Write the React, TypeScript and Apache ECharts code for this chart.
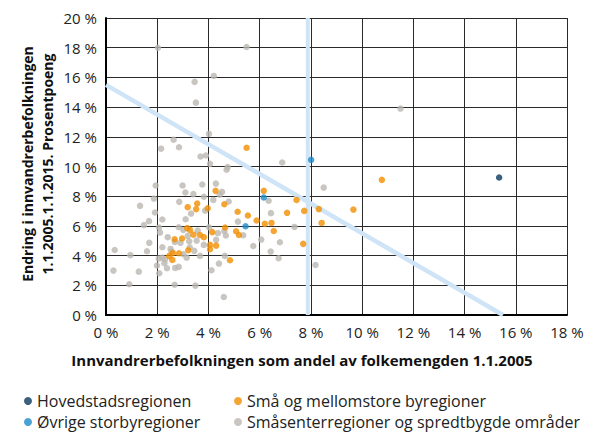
import React, { useEffect, useRef } from "react";
import * as echarts from "echarts";

const xTicks = [0, 2, 4, 6, 8, 10, 12, 14, 16, 18];
const yTicks = [0, 2, 4, 6, 8, 10, 12, 14, 16, 18, 20];

const hovedstad: number[][] = [[15.35, 9.26]];
const ovrigeStorby: number[][] = [[5.45, 5.98], [6.16, 7.91], [8.01, 10.45]];
const smaMellom: number[][] = [
  [5.49, 11.26], [4.28, 8.36], [4.62, 7.46], [3.56, 7.51], [3.19, 7.26], [3.52, 7.13],
  [3.97, 7.19], [5.14, 6.95], [5.54, 6.7], [5.88, 6.36], [3.17, 5.85], [3.28, 5.73],
  [4.15, 5.58], [4.65, 5.89], [5.08, 5.64], [5.19, 5.39], [2.97, 5.15], [3.41, 5.41],
  [3.67, 5.39], [3.82, 5.24], [2.68, 5.1], [4.06, 4.72], [4.3, 4.67], [4.06, 4.43],
  [3.21, 4.36], [2.85, 4.16], [2.61, 4.18], [2.47, 3.98], [2.59, 3.71], [4.84, 3.69],
  [10.77, 9.1], [6.16, 8.36], [7.44, 7.75], [7.07, 6.88], [7.74, 7.01], [8.31, 7.13],
  [9.66, 7.1], [6.2, 6.14], [6.46, 6.2], [6.55, 5.66], [8.42, 6.2], [7.7, 4.79],
];
const smasenter: number[][] = [
  [2.03, 18.0], [5.49, 18.05], [4.21, 16.1], [3.46, 15.7], [3.51, 14.3], [4.02, 12.2],
  [2.64, 11.8], [2.85, 11.3], [2.15, 11.2], [3.69, 10.67], [3.9, 10.74], [4.06, 10.18],
  [4.75, 9.96], [4.71, 9.78], [1.94, 8.72], [2.99, 8.72], [3.76, 8.79], [4.29, 8.85],
  [3.1, 8.25], [3.41, 8.14], [4.53, 8.29], [4.44, 8.11], [3.82, 7.96], [4.19, 7.75],
  [1.87, 7.84], [2.86, 7.62], [4.79, 7.64], [3.87, 7.03], [1.33, 7.35], [1.91, 6.9],
  [3.32, 6.83], [5.15, 6.29], [2.2, 6.43], [3.11, 6.45], [1.68, 6.32], [1.48, 6.05],
  [2.07, 5.89], [2.11, 5.55], [2.84, 5.91], [3.02, 5.73], [3.58, 5.68], [4.02, 5.91],
  [4.37, 5.51], [4.62, 5.64], [4.68, 5.35], [5.36, 5.37], [2.41, 5.24], [3.19, 5.33],
  [3.54, 5.01], [3.25, 4.97], [2.91, 4.86], [2.69, 4.92], [4.3, 5.06], [3.82, 4.72],
  [3.27, 4.56], [3.45, 4.32], [2.2, 4.56], [1.69, 4.86], [0.34, 4.38], [0.95, 4.03],
  [1.6, 4.29], [2.52, 4.45], [2.56, 4.27], [3.15, 3.86], [3.67, 3.98], [3.02, 4.09],
  [2.06, 3.8], [2.19, 3.86], [2.31, 3.76], [1.99, 3.33], [2.28, 3.49], [2.38, 3.15],
  [2.7, 3.17], [2.84, 3.24], [2.08, 2.81], [0.29, 2.99], [1.28, 2.92], [0.91, 2.07],
  [2.68, 2.04], [3.49, 1.98], [4.6, 1.21], [4.64, 3.98], [4.41, 3.46], [4.12, 3.01],
  [5.75, 4.65], [11.5, 13.9], [6.88, 10.27], [8.5, 8.58], [6.35, 7.69], [6.44, 6.86],
  [7.36, 5.93], [6.06, 5.08], [6.79, 4.9], [6.43, 4.27], [6.74, 3.82], [8.18, 3.37],
];
const diagonalLine: number[][] = [[0, 15.5], [15.5, 0]];
const verticalLine: number[][] = [[7.88, 0], [7.88, 20]];

const names = [
  "Hovedstadsregionen",
  "Øvrige storbyregioner",
  "Små og mellomstore byregioner",
  "Småsenterregioner og spredtbygde områder",
];
const colors = ["#0b3a5e", "#1b8bc8", "#f18f00", "#bcb8b1"];

export default function App() {
  const ref = useRef<HTMLDivElement>(null);
  useEffect(() => {
    if (!ref.current) return;
    const chart = echarts.init(ref.current, undefined, { renderer: "svg" });
    const font = "'Open Sans', 'Noto Sans', sans-serif";
    const legendPos = [
      { left: 24, top: 393 },
      { left: 24, top: 414 },
      { left: 234, top: 393 },
      { left: 234, top: 414 },
    ];
    const seriesData = [hovedstad, ovrigeStorby, smaMellom, smasenter];
    chart.setOption({
      animation: false,
      grid: { left: 106, right: 26, top: 18, bottom: 117 },
      xAxis: {
        type: "value",
        min: 0,
        max: 18,
        interval: 2,
        axisLine: { show: true, lineStyle: { color: "#000", width: 2 } },
        axisTick: { show: false },
        splitLine: { show: true, lineStyle: { color: "#2a2a2a", width: 1 } },
        axisLabel: {
          formatter: (v: number) => (xTicks.includes(v) ? v + " %" : ""),
          fontFamily: font,
          fontSize: 15,
          color: "#222",
          margin: 9,
        },
      },
      yAxis: {
        type: "value",
        min: 0,
        max: 20,
        interval: 2,
        axisLine: { show: true, lineStyle: { color: "#000", width: 2 } },
        axisTick: { show: false },
        splitLine: { show: true, lineStyle: { color: "#2a2a2a", width: 1 } },
        axisLabel: {
          formatter: (v: number) => (yTicks.includes(v) ? v + " %" : ""),
          fontFamily: font,
          fontSize: 15,
          color: "#222",
          margin: 9,
        },
      },
      legend: names.map((n, i) => ({
        data: [n],
        ...legendPos[i],
        icon: "circle",
        itemWidth: 8,
        itemHeight: 8,
        textStyle: { fontFamily: font, fontSize: 16, lineHeight: 16, color: "#222" },
        padding: 0,
      })),
      graphic: [
        {
          type: "text",
          x: 37,
          y: 164,
          rotation: Math.PI / 2,
          style: {
            text: "Endring i innvandrerbefolkningen\n1.1.2005.1.1.2015. Prosentpoeng",
            fontFamily: font,
            fontWeight: "bold",
            fontSize: 14,
            lineHeight: 20,
            fill: "#111",
            textAlign: "center",
            textVerticalAlign: "middle",
          },
        },
        {
          type: "text",
          x: 302,
          y: 360,
          style: {
            text: "Innvandrerbefolkningen som andel av folkemengden 1.1.2005",
            fontFamily: font,
            fontWeight: "bold",
            fontSize: 15,
            fill: "#111",
            textAlign: "center",
            textVerticalAlign: "middle",
          },
        },
      ],
      series: [
        {
          type: "line",
          data: diagonalLine,
          symbol: "none",
          z: 1,
          silent: true,
          lineStyle: { color: "#cfe4f6", width: 4.5 },
        },
        {
          type: "line",
          data: verticalLine,
          symbol: "none",
          z: 1,
          silent: true,
          lineStyle: { color: "#cfe4f6", width: 4 },
        },
        ...names.map((n, i) => ({
          type: "scatter",
          name: n,
          data: seriesData[i],
          symbol: "circle",
          symbolSize: 6.5,
          z: 5 - i,
          itemStyle: { color: colors[i] },
        })),
      ],
    });
    return () => chart.dispose();
  }, []);
  return (
    <div
      ref={ref}
      style={{ position: "fixed", left: 0, top: 0, width: 593, height: 432, background: "#fff" }}
    />
  );
}
